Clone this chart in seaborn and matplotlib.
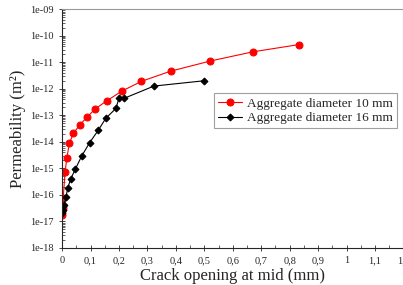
import numpy as np
import pandas as pd
import matplotlib
matplotlib.use("Agg")
import matplotlib.pyplot as plt
from matplotlib.ticker import FuncFormatter, MultipleLocator, LogLocator
import seaborn as sns

sns.set_style("ticks")
plt.rcParams["font.family"] = ["Liberation Serif", "DejaVu Serif"]

# aggregate diameter 10 mm
crack_10 = [0.0, 0.001, 0.002, 0.004, 0.0105, 0.0165, 0.026, 0.04, 0.062, 0.089,
            0.117, 0.157, 0.21, 0.279, 0.382, 0.52, 0.67, 0.832]
perm_10 = [1.8e-17, 2.4e-17, 3.3e-17, 7.5e-17, 7e-16, 2.4e-15, 9e-15, 2.1e-14, 4.3e-14, 8.8e-14,
           1.75e-13, 3.5e-13, 8.1e-13, 1.9e-12, 4.6e-12, 1.1e-11, 2.45e-11, 4.6e-11]

# aggregate diameter 16 mm
crack_16 = [0.0, 0.0046, 0.008, 0.014, 0.02, 0.0306, 0.0467, 0.069, 0.097, 0.1275,
            0.1535, 0.189, 0.2, 0.217, 0.323, 0.5]
perm_16 = [2.1e-17, 2.7e-17, 4.2e-17, 8.5e-17, 1.86e-16, 4e-16, 9.4e-16, 2.9e-15, 9.3e-15, 2.75e-14,
           7.6e-14, 1.8e-13, 4.3e-13, 4.3e-13, 1.26e-12, 2e-12]

df10 = pd.DataFrame({"x": crack_10, "y": perm_10})
df16 = pd.DataFrame({"x": crack_16, "y": perm_16})

fig = plt.figure(figsize=(4.03, 2.85), dpi=100)
ax = fig.add_axes([0.154, 0.130, 0.847, 0.838])

sns.lineplot(data=df10, x="x", y="y", ax=ax, sort=False, color="#ff0000", lw=0.8,
             marker="o", markersize=5, markeredgecolor="#ff0000",
             label="Aggregate diameter 10 mm")
sns.lineplot(data=df16, x="x", y="y", ax=ax, sort=False, color="black", lw=0.8,
             marker="D", markersize=3.5, markeredgecolor="black",
             label="Aggregate diameter 16 mm")

ax.set_yscale("log")
ax.set_ylim(1e-18, 1e-9)
ax.set_xlim(0, 1.2)

ax.yaxis.set_major_locator(LogLocator(base=10, numticks=20))
ax.yaxis.set_minor_locator(LogLocator(base=10, subs=np.arange(2, 10), numticks=20))
ax.yaxis.set_major_formatter(FuncFormatter(lambda v, p: f"1e{int(round(np.log10(v))):03d}"))
ax.xaxis.set_major_locator(MultipleLocator(0.1))
ax.xaxis.set_minor_locator(MultipleLocator(0.05))
ax.xaxis.set_major_formatter(FuncFormatter(lambda v, p: f"{v:.1f}".rstrip("0").rstrip(".").replace(".", ",")))

ax.tick_params(axis="both", which="major", labelsize=7.5, direction="inout", length=5, width=0.6)
ax.tick_params(axis="both", which="minor", direction="in", length=2.5, width=0.5)

for s in ["top", "right"]:
    ax.spines[s].set_color("#999999")
for s in ["left", "bottom"]:
    ax.spines[s].set_linewidth(0.8)

ax.set_xlabel("Crack opening at mid (mm)", fontsize=12, labelpad=2)
ax.set_ylabel("Permeability (m\u00b2)", fontsize=12, labelpad=3)

leg = ax.legend(loc="upper right", bbox_to_anchor=(1.0, 0.675), fontsize=9.5,
                frameon=True, fancybox=False, edgecolor="#888888",
                handlelength=1.8, borderpad=0.3, labelspacing=0.2, handletextpad=0.4)
leg.get_frame().set_linewidth(0.8)

fig.savefig("out.png", dpi=100)
